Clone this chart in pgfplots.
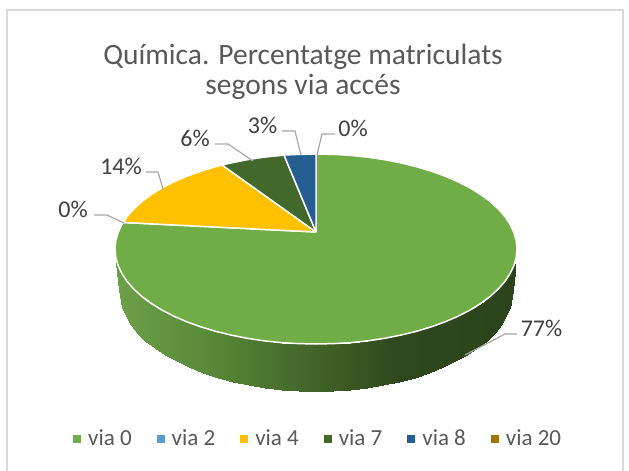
\documentclass[border=0pt]{standalone}
\usepackage{pgfplots}
\pgfplotsset{compat=1.18}
\usepackage{fontspec}
\setmainfont{Carlito}
\definecolor{cGreen}{HTML}{70AD47}
\definecolor{cBlue}{HTML}{5B9BD5}
\definecolor{cYellow}{HTML}{FFC000}
\definecolor{cDark}{HTML}{43682B}
\definecolor{cNavy}{HTML}{255E91}
\definecolor{cBrown}{HTML}{9E7500}
\definecolor{cLead}{HTML}{A6A6A6}
\definecolor{cFrame}{HTML}{D9D9D9}
\definecolor{cText}{HTML}{595959}
\definecolor{cLab}{HTML}{404040}
\begin{document}
\begin{tikzpicture}
\begin{axis}[
  scale only axis, width=629pt, height=471pt,
  xmin=0, xmax=629, ymin=0, ymax=471, y dir=reverse,
  hide axis, clip=true,
  title={Química. Percentatge matriculats\\segons via accés},
  title style={at={(0.4817,0.835)},anchor=center,align=center,text=cText,
    font=\fontsize{29.5}{29.5}\selectfont},
  colormap={wall}{rgb255(117)=(108,160,72) rgb255(200)=(90,140,58) rgb255(330)=(62,94,38) rgb255(400)=(46,72,28) rgb255(517)=(43,67,27)},
  point meta min=117, point meta max=517,
  legend columns=6,
  legend style={at={(axis cs:73,438)},anchor=west,draw=none,fill=none,inner sep=0pt,
    font=\fontsize{23}{26}\selectfont,text=cText,
    nodes={inner sep=0pt,anchor=west},
    /tikz/every even column/.append style={column sep=25pt},
    /tikz/every odd column/.append style={column sep=7pt}},
  legend image code/.code={\fill[#1,draw=none] (0pt,-4.5pt) rectangle (8pt,3.5pt);},
]
% page background and chart frame
\addplot[fill=white,draw=none,forget plot] coordinates {(0,0)(629,0)(629,471)(0,471)} \closedcycle;
\addplot[cFrame,line width=2pt,forget plot] coordinates {(7,471)(7,10)(622.5,10)(622.5,471)};
% pie wall (front)
\addplot[surf,shader=interp,mesh/rows=2,point meta=x,forget plot] table[x=x,y=y] {
x y
515.5 262
513.9 265.5
510.1 273.6
504.9 281.5
498.2 289.1
490.1 296.5
480.7 303.5
470.0 310.1
458.1 316.2
445.2 321.8
431.3 326.8
416.5 331.3
400.9 335.1
384.7 338.3
368.0 340.8
350.9 342.6
333.5 343.6
316.0 344.0
298.5 343.6
281.1 342.6
264.0 340.8
247.3 338.3
231.1 335.1
215.5 331.3
200.7 326.8
186.8 321.8
173.9 316.2
162.0 310.1
151.3 303.5
141.9 296.5
133.8 289.1
127.1 281.5
121.9 273.6
118.1 265.5
116.5 262
515.5 263
513.0 290.0
510.0 307.5
501.1 324.5
494.5 332.7
486.6 340.5
477.4 347.9
466.9 354.9
455.3 361.4
442.6 367.4
429.0 372.7
414.5 377.5
399.3 381.5
383.4 384.9
367.0 387.6
350.2 389.5
333.2 390.6
316.0 391.0
298.8 390.6
281.8 389.5
265.0 387.6
248.6 384.9
232.7 381.5
217.5 377.5
203.0 372.7
189.4 367.4
176.7 361.4
165.1 354.9
154.6 347.9
145.4 340.5
137.5 332.7
130.9 324.5
122.0 307.5
119.0 290.0
116.5 263
};
% via 0
\addplot[fill=cGreen,draw=white,line width=1.5pt,line join=round] coordinates {
(316,232)(316,154)(333.5,154.4)(350.9,155.4)(368,157.2)(384.7,159.7)(400.9,162.9)(416.5,166.7)(431.3,171.2)(445.2,176.2)(458.1,181.8)(470,187.9)(480.7,194.5)(490.1,201.5)(498.2,208.9)(504.9,216.5)(510.1,224.4)(513.9,232.5)(516.2,240.7)(517,249)
(516.2,257.3)(513.9,265.5)(510.1,273.6)(504.9,281.5)(498.2,289.1)(490.1,296.5)(480.7,303.5)(470,310.1)(458.1,316.2)(445.2,321.8)(431.3,326.8)(416.5,331.3)(400.9,335.1)(384.7,338.3)(368,340.8)(350.9,342.6)(333.5,343.6)(316,344)
(298.5,343.6)(281.1,342.6)(264,340.8)(247.3,338.3)(231.1,335.1)(215.5,331.3)(200.7,326.8)(186.8,321.8)(173.9,316.2)(162,310.1)(151.3,303.5)(141.9,296.5)(133.8,289.1)(127.1,281.5)(121.9,273.6)(118.1,265.5)(115.8,257.3)(115,249)
(115.8,240.7)(118.1,232.5)(121.9,224.4)(123.5,222.5)(316,232)};
\addlegendentry{via 0}
% via 2 (0 %)
\addplot[fill=cBlue,draw=none] coordinates {(316,232)(123.5,222.5)(316,232)};
\addlegendentry{via 2}
% via 4
\addplot[fill=cYellow,draw=white,line width=1.5pt,line join=round] coordinates {
(316,232)(123.5,222.5)(127.1,216.5)(133.8,208.9)(141.9,201.5)(151.3,194.5)(162,187.9)(173.9,181.8)(186.8,176.2)(200.7,171.2)(215.5,166.7)(222,165)(316,232)};
\addlegendentry{via 4}
% via 7
\addplot[fill=cDark,draw=white,line width=1.5pt,line join=round] coordinates {
(316,232)(222,165)(231.1,162.9)(247.3,159.7)(264,157.2)(281.1,155.4)(284,155)(316,232)};
\addlegendentry{via 7}
% via 8
\addplot[fill=cNavy,draw=white,line width=1.5pt,line join=round] coordinates {
(316,232)(284,155)(298.5,154.4)(316,154)(316,232)};
\addlegendentry{via 8}
% via 20 (0 %)
\addplot[fill=cBrown,draw=none] coordinates {(316,232)(316,154)(316,232)};
\addlegendentry{via 20}
% leader lines
\addplot[cLead,line width=1.2pt,forget plot] coordinates {(282,131)(295,131)(301,155)};
\addplot[cLead,line width=1.2pt,forget plot] coordinates {(335,134)(322,134)(317,155)};
\addplot[cLead,line width=1.2pt,forget plot] coordinates {(215,144)(228,144)(253,161)};
\addplot[cLead,line width=1.2pt,forget plot] coordinates {(146,172)(158,172)(163,189)};
\addplot[cLead,line width=1.2pt,forget plot] coordinates {(94,215)(107,215)(124,223)};
\addplot[cLead,line width=1.2pt,forget plot] coordinates {(517,334)(505,334)(465,355)};
% data labels
\tikzset{lab/.style={text=cLab,inner sep=0pt,anchor=center,font=\fontsize{24}{26}\selectfont}}
\node[lab] at (axis cs:262.5,125) {3\%};
\node[lab] at (axis cs:353,128) {0\%};
\node[lab] at (axis cs:195,138) {6\%};
\node[lab] at (axis cs:121,166) {14\%};
\node[lab] at (axis cs:73,209) {0\%};
\node[lab] at (axis cs:541.5,328) {77\%};
\end{axis}
\end{tikzpicture}
\end{document}
